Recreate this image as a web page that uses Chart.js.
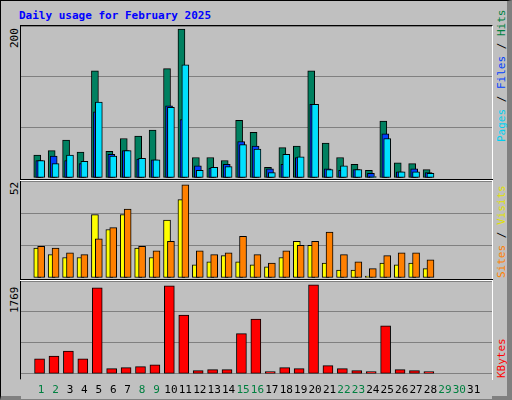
<!DOCTYPE html>
<html><head><meta charset="utf-8">
<script src="https://cdn.jsdelivr.net/npm/chart.js@4"></script>
<style>
body{margin:0;background:#fff}
#wrap{position:absolute;left:0;top:0;width:506px;height:395px;background:#c0c0c0;border-left:1px solid #000;border-top:1px solid #000;border-right:5px solid #808080;border-bottom:4px solid #808080;box-sizing:content-box}
.t{position:absolute;font-family:"DejaVu Sans Mono",monospace;font-size:11px;white-space:nowrap}
.v{transform-origin:left top;transform:rotate(-90deg)}
.p{position:absolute;left:20px;width:471px;background:#c0c0c0}
canvas{display:block}
.ln{position:absolute;left:19px;width:473px}
</style></head><body>
<div id="wrap"></div>
<script>
const days=[1,2,3,4,5,6,7,8,9,10,11,12,13,14,15,16,17,18,19,20,21,22,23,24,25,26,27,28];
const hits=[30,36,50,34,141,35,52,55,63,144,196,27,27,23,76,60,14,40,42,141,46,27,18,10,75,20,19,11];
const files=[23,29,23,19,87,31,36,25,24,95,77,16,13,18,48,42,12,18,27,97,12,10,11,6,58,8,12,7];
const pages=[23,19,30,22,100,29,36,26,24,93,149,10,14,15,44,38,7,31,28,97,11,16,11,2,52,8,8,6];
const visits=[16,12.5,11,11,34,26,34,16,11,31,42,7,8.7,12,8.7,7,6,11,19.7,17.5,8,4.3,4.3,1,8,7,8,5];
const sites=[17,16,13.5,12.5,21,27,37,17,14.6,19.7,50,14.6,12.5,13.5,22.4,12.5,8,14.6,17.5,19.7,24.6,12.5,8.7,5,12,13.5,13.5,9.8];
const kbytes=[285,340,433,285,1639,99,117,136,173,1676,1120,62,80,80,767,1045,43,117,99,1695,155,99,62,43,915,80,62,43];
const xLabels=['1','2','3','4','5','6','7','8','9','10','11','12','13','14','15','16','17','18','19','20','21','22','23','24','25','26','27','28','29','30','31'];
const weekend=[1,2,8,9,15,16,22,23,29,30];
const maxTop=200,maxMid=52,maxBot=1769;

const W=document.getElementById('wrap');
function add(html){W.insertAdjacentHTML('beforeend',html);}
add('<div class="t" style="left:18px;top:8px;color:#0000ff;font-weight:bold">Daily usage for February 2025</div>');
add('<div class="ln" style="top:24px;height:355px;border-top:1px solid #000;border-left:1px solid #000;border-right:1px solid #fff;border-bottom:1px solid #fff;box-sizing:border-box"></div>');
add('<div class="ln" style="top:178px;height:0;border-top:1px solid #000;border-bottom:1px solid #fff"></div>');
add('<div class="ln" style="top:278px;height:0;border-top:1px solid #000;border-bottom:1px solid #fff"></div>');
add('<div class="t v" style="left:7px;top:47px">'+maxTop+'</div>');
add('<div class="t v" style="left:7px;top:194px">'+maxMid+'</div>');
add('<div class="t v" style="left:7px;top:312px">'+maxBot+'</div>');
add('<div class="t v" style="left:494px;top:141px"><span style="color:#00d0f0">Pages</span> / <span style="color:#0040ff">Files</span> / <span style="color:#008040">Hits</span></div>');
add('<div class="t v" style="left:494px;top:277px"><span style="color:#ff8000">Sites</span> / <span style="color:#e0e000">Visits</span></div>');
add('<div class="t v" style="left:494px;top:377px;color:#ff0000">KBytes</div>');
add('<div class="p" style="top:25px;height:153px"><canvas id="c1"></canvas></div>');
add('<div class="p" style="top:180px;height:98px"><canvas id="c2"></canvas></div>');
add('<div class="p" style="top:280px;height:118px"><canvas id="c3"></canvas></div>');

const XMIN=0.13,XMAX=31.74;
function pts(arr,off){return days.map((d,i)=>({x:d+off,y:arr[i]}));}
function ds(arr,off,color,w,order){return {data:pts(arr,off),backgroundColor:color,borderColor:'#000',borderWidth:1,barThickness:w,order:order,grouped:false,borderSkipped:false};}
function opts(max,showX){
 return {responsive:false,animation:false,maintainAspectRatio:false,
  layout:{padding:0},
  plugins:{legend:{display:false},tooltip:{enabled:false}},
  scales:{
   x:{type:'linear',min:XMIN,max:XMAX,display:showX,grid:{display:false},border:{display:false},
      afterBuildTicks:s=>{s.ticks=xLabels.map((l,i)=>({value:i+1}));},
      ticks:{autoSkip:false,maxRotation:0,padding:2,font:{family:'DejaVu Sans Mono',size:11},
        callback:(v)=>xLabels[Math.round(v)-1],
        color:c=>weekend.includes(Math.round(c.tick.value))?'#008040':'#000'}},
   y:{min:0,max:max,afterBuildTicks:s=>{s.ticks=[0,1,2,3].map(k=>({value:max*k/3}));},
      ticks:{display:false},grid:{color:'#808080',drawTicks:false,lineWidth:1},border:{display:false}}
  }};
}
function mk(id,w,h,datasets,max,showX){
 const c=document.getElementById(id);c.width=w;c.height=h;c.style.width=w+'px';c.style.height=h+'px';
 new Chart(c,{type:'bar',data:{datasets},options:opts(max,showX)});
}
mk('c1',471,152,[ds(hits,-0.27,'#008060',7,3),ds(files,-0.13,'#0040ff',7,2),ds(pages,0,'#00e0ff',7,1)],maxTop,false);
mk('c2',471,97,[ds(visits,-0.27,'#ffff00',7,2),ds(sites,0,'#ff8000',7,1)],maxMid,false);
mk('c3',471,118,[ds(kbytes,-0.11,'#ff0000',10,1)],maxBot,true);
</script>
</body></html>
